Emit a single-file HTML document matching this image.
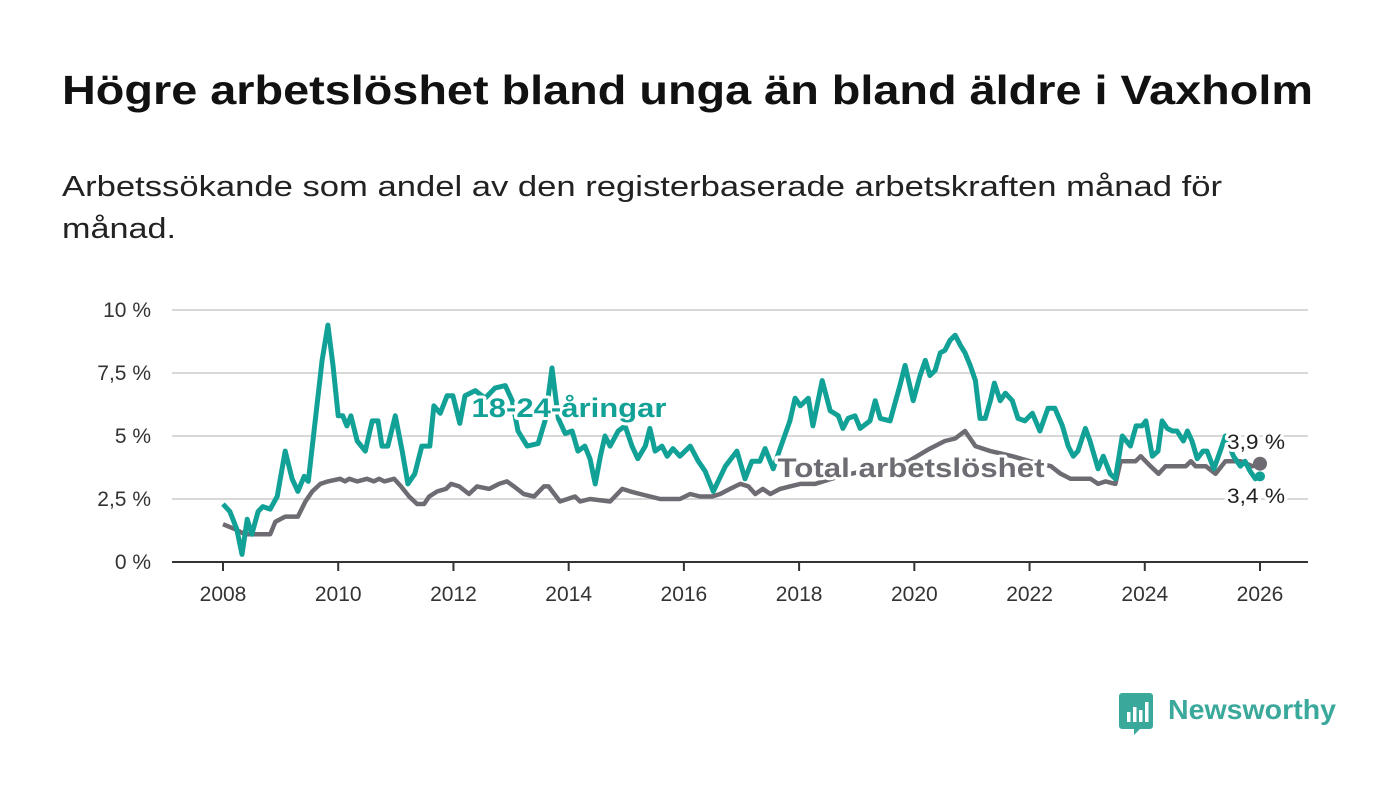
<!DOCTYPE html>
<html><head><meta charset="utf-8"><style>
body{margin:0;width:1400px;height:794px;background:#fff;font-family:"Liberation Sans",sans-serif;overflow:hidden}
</style></head><body>
<svg width="1400" height="794" viewBox="0 0 1400 794">
<text x="62" y="104" font-size="41" font-weight="bold" fill="#111" textLength="1251" lengthAdjust="spacingAndGlyphs">Högre arbetslöshet bland unga än bland äldre i Vaxholm</text>
<text x="62" y="196" font-size="29" fill="#222" textLength="1160" lengthAdjust="spacingAndGlyphs">Arbetssökande som andel av den registerbaserade arbetskraften månad för</text>
<text x="62" y="238" font-size="29" fill="#222" textLength="114" lengthAdjust="spacingAndGlyphs">månad.</text>
<g id="grid"></g><g id="series"></g><g id="labels"></g>
<g>
<path d="M1122 693h28a3 3 0 0 1 3 3v30a3 3 0 0 1-3 3h-10l-6 6v-6h-12a3 3 0 0 1-3-3v-30a3 3 0 0 1 3-3z" fill="#3aa89a"/>
<rect x="1127" y="712" width="3.5" height="10" fill="#fff"/><rect x="1133" y="707" width="3.5" height="15" fill="#fff"/><rect x="1139" y="710" width="3.5" height="12" fill="#fff"/><rect x="1145" y="702" width="3.5" height="20" fill="#fff"/>
<text x="1168" y="719" font-size="28" font-weight="bold" fill="#3aa89a" textLength="168" lengthAdjust="spacingAndGlyphs">Newsworthy</text>
</g>
</svg>
<script>
const yTicks=[0,2.5,5,7.5,10];
const yTickLabels=["0 %","2,5 %","5 %","7,5 %","10 %"];
const xTicks=[2008,2010,2012,2014,2016,2018,2020,2022,2024,2026];
const youthDates=[2008.00,2008.12,2008.24,2008.33,2008.42,2008.50,2008.61,2008.69,2008.82,2008.94,2009.08,2009.20,2009.30,2009.41,2009.48,2009.60,2009.72,2009.82,2009.91,2010.00,2010.08,2010.15,2010.22,2010.33,2010.47,2010.59,2010.69,2010.76,2010.86,2010.99,2011.11,2011.21,2011.33,2011.45,2011.59,2011.66,2011.77,2011.89,2011.99,2012.11,2012.20,2012.38,2012.55,2012.72,2012.90,2013.02,2013.12,2013.28,2013.47,2013.59,2013.71,2013.82,2013.94,2014.06,2014.16,2014.28,2014.37,2014.46,2014.55,2014.63,2014.72,2014.86,2014.98,2015.10,2015.20,2015.33,2015.41,2015.50,2015.62,2015.71,2015.81,2015.93,2016.11,2016.25,2016.37,2016.51,2016.72,2016.92,2017.06,2017.18,2017.32,2017.41,2017.55,2017.67,2017.84,2017.93,2018.02,2018.16,2018.24,2018.40,2018.54,2018.68,2018.76,2018.85,2018.97,2019.06,2019.23,2019.32,2019.41,2019.58,2019.75,2019.84,2019.98,2020.10,2020.19,2020.27,2020.36,2020.45,2020.53,2020.62,2020.71,2020.80,2020.88,2020.97,2021.06,2021.14,2021.23,2021.32,2021.39,2021.49,2021.58,2021.70,2021.80,2021.92,2022.05,2022.18,2022.32,2022.44,2022.57,2022.67,2022.76,2022.84,2022.97,2023.05,2023.19,2023.28,2023.40,2023.49,2023.61,2023.75,2023.85,2023.95,2024.02,2024.13,2024.23,2024.30,2024.39,2024.48,2024.56,2024.67,2024.74,2024.82,2024.91,2025.01,2025.08,2025.20,2025.31,2025.40,2025.54,2025.66,2025.74,2025.83,2025.92,2026.00];
const youthValues=[2.3,2.0,1.3,0.3,1.7,1.1,2.0,2.2,2.1,2.6,4.4,3.3,2.8,3.4,3.2,5.6,8.0,9.4,7.8,5.8,5.8,5.4,5.8,4.8,4.4,5.6,5.6,4.6,4.6,5.8,4.4,3.1,3.5,4.6,4.6,6.2,5.9,6.6,6.6,5.5,6.6,6.8,6.5,6.9,7.0,6.4,5.2,4.6,4.7,5.6,7.7,5.7,5.1,5.2,4.4,4.6,4.1,3.1,4.2,5.0,4.6,5.2,5.4,4.6,4.1,4.6,5.3,4.4,4.6,4.2,4.5,4.2,4.6,4.0,3.6,2.8,3.8,4.4,3.3,4.0,4.0,4.5,3.7,4.5,5.6,6.5,6.2,6.5,5.4,7.2,6.0,5.8,5.3,5.7,5.8,5.3,5.6,6.4,5.7,5.6,7.0,7.8,6.4,7.4,8.0,7.4,7.6,8.3,8.4,8.8,9.0,8.6,8.3,7.8,7.2,5.7,5.7,6.4,7.1,6.4,6.7,6.4,5.7,5.6,5.9,5.2,6.1,6.1,5.4,4.6,4.2,4.4,5.3,4.8,3.7,4.2,3.5,3.3,5.0,4.6,5.4,5.4,5.6,4.2,4.4,5.6,5.3,5.2,5.2,4.8,5.2,4.8,4.1,4.4,4.4,3.7,4.4,5.0,4.2,3.8,4.0,3.6,3.3,3.4];
const totalDates=[2008.00,2008.21,2008.38,2008.82,2008.91,2009.08,2009.30,2009.43,2009.55,2009.69,2009.82,2010.03,2010.12,2010.19,2010.33,2010.50,2010.62,2010.71,2010.80,2010.97,2011.09,2011.23,2011.37,2011.49,2011.58,2011.72,2011.87,2011.96,2012.10,2012.27,2012.41,2012.62,2012.79,2012.93,2013.05,2013.22,2013.40,2013.57,2013.65,2013.85,2014.11,2014.20,2014.37,2014.72,2014.93,2015.07,2015.24,2015.59,2015.76,2015.93,2016.11,2016.28,2016.49,2016.63,2016.80,2016.98,2017.12,2017.24,2017.37,2017.50,2017.67,2017.84,2018.02,2018.28,2018.70,2019.30,2019.90,2020.27,2020.53,2020.71,2020.88,2021.06,2021.32,2021.70,2022.00,2022.37,2022.54,2022.71,2023.06,2023.19,2023.32,2023.49,2023.58,2023.84,2023.93,2024.10,2024.24,2024.36,2024.71,2024.80,2024.88,2025.06,2025.23,2025.40,2025.66,2025.87,2026.00];
const totalValues=[1.5,1.3,1.1,1.1,1.6,1.8,1.8,2.4,2.8,3.1,3.2,3.3,3.2,3.3,3.2,3.3,3.2,3.3,3.2,3.3,3.0,2.6,2.3,2.3,2.6,2.8,2.9,3.1,3.0,2.7,3.0,2.9,3.1,3.2,3.0,2.7,2.6,3.0,3.0,2.4,2.6,2.4,2.5,2.4,2.9,2.8,2.7,2.5,2.5,2.5,2.7,2.6,2.6,2.7,2.9,3.1,3.0,2.7,2.9,2.7,2.9,3.0,3.1,3.1,3.4,3.7,4.0,4.5,4.8,4.9,5.2,4.6,4.4,4.2,4.0,3.8,3.5,3.3,3.3,3.1,3.2,3.1,4.0,4.0,4.2,3.8,3.5,3.8,3.8,4.0,3.8,3.8,3.5,4.0,4.0,3.8,3.9];
const NS="http://www.w3.org/2000/svg";
const X0=223,X1=1260,Y0=562,Y1=310;
const xs=d=>X0+(d-2008)/(2026-2008)*(X1-X0);
const ys=v=>Y0-v/10*(Y0-Y1);
function mk(t,a,p){const e=document.createElementNS(NS,t);for(const k in a)e.setAttribute(k,a[k]);p.appendChild(e);return e;}
const grid=document.getElementById('grid');
yTicks.forEach((v,i)=>{
 if(v>0){const l=mk('line',{x1:172,x2:1308,y1:ys(v),y2:ys(v),stroke:'#d8d8d8','stroke-width':2},grid);
 
 }
 const t=mk('text',{x:151,y:ys(v)+7,'text-anchor':'end','font-size':21,fill:'#333'},grid);t.textContent=yTickLabels[i];
 
 
});
const ax=mk('line',{x1:172,x2:1308,y1:Y0,y2:Y0,stroke:'#333','stroke-width':2},grid);


xTicks.forEach(y=>{
 mk('line',{x1:xs(y),x2:xs(y),y1:Y0,y2:Y0+9,stroke:'#333','stroke-width':2},grid);
 const t=mk('text',{x:xs(y),y:601,'text-anchor':'middle','font-size':21,fill:'#333'},grid);t.textContent=y;
 
 
});
const S=document.getElementById('series');
function line(d,v,c,w,name){
 const p=mk('path',{d:d.map((x,i)=>(i?'L':'M')+xs(x).toFixed(1)+' '+ys(v[i]).toFixed(1)).join(''),fill:'none',stroke:c,'stroke-width':w,'stroke-linejoin':'round'},S);
 
 
}
line(totalDates,totalValues,'#6e6c72',4.5,'total-unemployment-line');
line(youthDates,youthValues,'#12a196',5,'youth-unemployment-line');
const L=document.getElementById('labels');
const gd=mk('circle',{cx:xs(totalDates[totalDates.length-1]),cy:ys(totalValues[totalValues.length-1]),r:7,fill:'#6e6c72'},L);


const td=mk('circle',{cx:xs(youthDates[youthDates.length-1]),cy:ys(youthValues[youthValues.length-1]),r:5,fill:'#12a196'},L);


function lab(x,y,txt,c,fs,bold,len,name){
 const a={x:x,y:y,'text-anchor':'middle','font-size':fs,fill:c,stroke:'#fff','stroke-width':6,'paint-order':'stroke','stroke-linejoin':'round'};
 if(bold)a['font-weight']='bold';
 if(len){a.textLength=len;a.lengthAdjust='spacingAndGlyphs';}
 const t=mk('text',a,L);t.textContent=txt;
 
 
}
lab(569,417,'18-24-åringar','#12a196',27,true,195,'youth-series-label');
lab(911,477,'Total arbetslöshet','#6e6c72',27,true,267,'total-series-label');
lab(1256,449,'3,9 %','#222',21,false,58,'total-end-value');
lab(1256,503,'3,4 %','#222',21,false,58,'youth-end-value');
</script>
</body></html>
